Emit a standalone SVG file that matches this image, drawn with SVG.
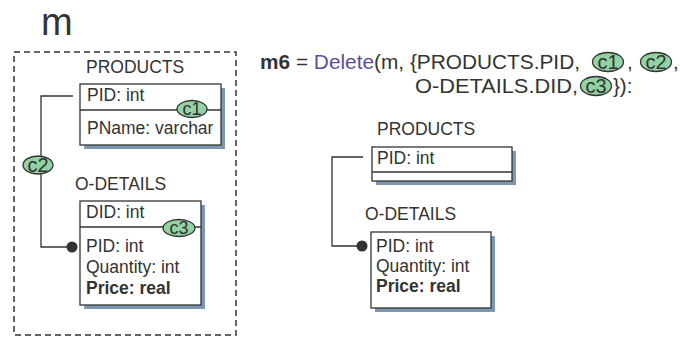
<svg xmlns="http://www.w3.org/2000/svg" width="680" height="338" viewBox="0 0 680 338">
<style>
text{font-family:"Liberation Sans",Arial,sans-serif;fill:#333;}
.t{font-size:17.5px;}
.b{font-weight:bold;}
.f{font-size:20.5px;}
.box{fill:#fff;stroke:#333;stroke-width:1.3;}
.sh{fill:#7d98b3;}
.ln{fill:none;stroke:#333;stroke-width:1.3;}
.ell{fill:#92d3a4;stroke:#333;stroke-width:1.3;}
.dot{fill:#333;}
.lbl{font-size:20px;text-anchor:middle;}
.sl{font-size:18px;}
</style>
<text x="41" y="35" style="font-size:38px">m</text>
<rect x="14" y="52" width="222" height="283" fill="none" stroke="#333" stroke-width="1.5" stroke-dasharray="6,4"/>

<g id="connectors">
<path class="ln" d="M73 96 H41 V247 H72"/>
<circle class="dot" cx="72" cy="247" r="5.5"/>
<path class="ln" d="M363 157 H332 V246 H362"/>
<circle class="dot" cx="362" cy="246" r="5.5"/>
<ellipse class="ell" cx="38" cy="165" rx="15" ry="9"/>
<text class="lbl" x="38" y="172">c2</text>
</g>

<g id="products-left">
<text class="t" x="86" y="73">PRODUCTS</text>
<rect class="sh" x="84" y="88" width="141" height="61"/>
<rect class="box" x="80" y="84" width="141" height="61"/>
<line class="ln" x1="80" y1="110" x2="221" y2="110"/>
<text class="t" x="87" y="101">PID: int</text>
<text class="t" x="87" y="134">PName: varchar</text>
<ellipse class="ell" cx="192" cy="109" rx="15" ry="8.5"/>
<text class="lbl sl" x="192" y="115">c1</text>
</g>

<g id="odetails-left">
<text class="t" x="75" y="190">O-DETAILS</text>
<rect class="sh" x="84" y="205" width="121" height="104"/>
<rect class="box" x="80" y="201" width="121" height="104"/>
<line class="ln" x1="80" y1="227" x2="201" y2="227"/>
<text class="t" x="86" y="218">DID: int</text>
<text class="t" x="86" y="252">PID: int</text>
<text class="t" x="86" y="273">Quantity: int</text>
<text class="t b" x="86" y="294">Price: real</text>
<ellipse class="ell" cx="179" cy="228" rx="16" ry="8.5"/>
<text class="lbl sl" x="179" y="234">c3</text>
</g>

<g id="formula">
<text class="f" x="260" y="69" textLength="320" lengthAdjust="spacingAndGlyphs"><tspan class="b">m6</tspan> = <tspan style="fill:#5a4e9c">Delete</tspan>(m, {PRODUCTS.PID,</text>
<ellipse class="ell" cx="608" cy="62" rx="15.5" ry="9.5"/>
<text class="lbl" x="608" y="69">c1</text>
<text class="f" x="627" y="69">,</text>
<ellipse class="ell" cx="656" cy="62" rx="15.5" ry="9.5"/>
<text class="lbl" x="656" y="69">c2</text>
<text class="f" x="673" y="69">,</text>
<text class="f" x="415" y="93" textLength="163" lengthAdjust="spacingAndGlyphs">O-DETAILS.DID,</text>
<ellipse class="ell" cx="596" cy="86" rx="15.5" ry="9.5"/>
<text class="lbl" x="596" y="93">c3</text>
<text class="f" x="613" y="93">}):</text>
</g>

<g id="products-right">
<text class="t" x="377" y="135">PRODUCTS</text>
<rect class="sh" x="376" y="151" width="140" height="34"/>
<rect class="box" x="372" y="147" width="140" height="34"/>
<line class="ln" x1="372" y1="172" x2="512" y2="172"/>
<text class="t" x="377" y="164">PID: int</text>
</g>

<g id="odetails-right">
<text class="t" x="365" y="220">O-DETAILS</text>
<rect class="sh" x="375" y="236" width="120" height="76"/>
<rect class="box" x="371" y="232" width="120" height="76"/>
<text class="t" x="376" y="252">PID: int</text>
<text class="t" x="376" y="272">Quantity: int</text>
<text class="t b" x="376" y="292">Price: real</text>
</g>
</svg>
